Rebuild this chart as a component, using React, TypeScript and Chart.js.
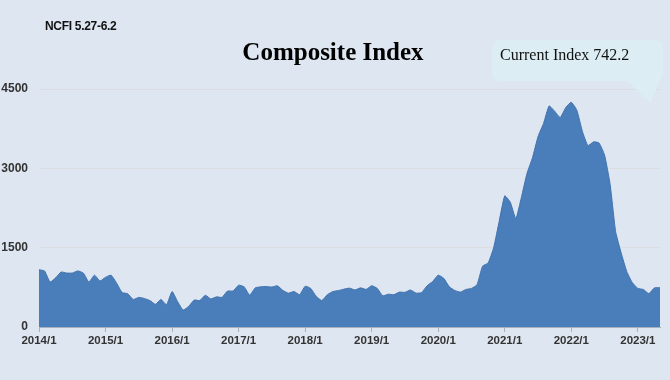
import React, { useEffect, useRef } from "react";
import { Chart, registerables } from "chart.js";

Chart.register(...registerables);

const START_YEAR = 2014;
// Monthly composite index values, 2014/1 .. 2023/5
const values: number[] = [
  1082, 1060, 850, 930, 1040, 1020, 1020, 1060, 1020, 850, 980, 870,
  940, 980, 830, 650, 630, 520, 560, 540, 500, 430, 520, 420,
  670, 480, 320, 390, 510, 500, 600, 530, 570, 560, 680, 680,
  790, 760, 600, 740, 760, 765, 755, 780, 690, 640, 670, 610,
  770, 730, 580, 500, 610, 670, 690, 715, 735, 700, 740, 710,
  780, 730, 590, 620, 610, 660, 655, 700, 640, 650, 780, 860,
  980, 920, 760, 690, 660, 710, 730, 800, 1150, 1210, 1500, 2000,
  2480, 2360, 2050, 2450, 2900, 3200, 3600, 3850, 4180, 4080, 3960, 4150,
  4250, 4100, 3700, 3430, 3500, 3480, 3250, 2700, 1800, 1400, 1050, 840,
  730, 710, 630, 740, 742.2,
];
const months: string[] = values.map(
  (_, i) => `${START_YEAR + Math.floor(i / 12)}/${(i % 12) + 1}`
);
const yTicks: number[] = [0, 1500, 3000, 4500];

const subTitle = "NCFI 5.27-6.2";
const mainTitle = "Composite Index";
const calloutText = "Current Index 742.2";

export default function App() {
  const ref = useRef<HTMLCanvasElement | null>(null);

  useEffect(() => {
    document.body.style.margin = "0";
    const canvas = ref.current;
    if (!canvas) return;
    const chart = new Chart(canvas, {
      type: "line",
      data: {
        labels: months,
        datasets: [
          {
            data: values,
            fill: "origin",
            backgroundColor: "#4a7ebb",
            borderColor: "#4272ad",
            borderWidth: 1,
            pointRadius: 0,
            tension: 0.15,
          },
        ],
      },
      options: {
        animation: false,
        responsive: false,
        maintainAspectRatio: false,
        layout: { padding: { top: 89, right: 10, bottom: 0, left: 0 } },
        plugins: {
          legend: { display: false },
          tooltip: { enabled: false },
          title: { display: false },
        },
        scales: {
          x: {
            type: "category",
            offset: false,
            afterBuildTicks: (scale: any) => {
              scale.ticks = scale.ticks.filter((t: any) => t.value % 12 === 0);
            },
            afterFit: (scale: any) => {
              scale.height = 53;
            },
            ticks: {
              autoSkip: false,
              maxRotation: 0,
              padding: 2,
              color: "#333333",
              font: { family: "'Liberation Sans', Arial, sans-serif", size: 11.5, weight: "bold" },
              callback: (v: any) => months[v as number],
            },
            grid: {
              drawOnChartArea: false,
              drawTicks: true,
              tickLength: 5,
              tickColor: "#a8b2bf",
            },
            border: { display: true, color: "#a8b2bf", width: 1 },
          },
          y: {
            min: 0,
            max: 4500,
            afterBuildTicks: (scale: any) => {
              scale.ticks = yTicks.map((v) => ({ value: v }));
            },
            afterFit: (scale: any) => {
              scale.width = 39;
            },
            ticks: {
              padding: 11,
              color: "#333333",
              font: { family: "'Liberation Sans', Arial, sans-serif", size: 12, weight: "bold" },
              callback: (v: any) => String(v),
            },
            grid: {
              drawTicks: false,
              color: (ctx: any) => (ctx.tick && ctx.tick.value === 0 ? "rgba(0,0,0,0)" : "rgba(215,215,210,0.55)"),
            },
            border: { display: false },
          },
        },
      },
    });
    return () => chart.destroy();
  }, []);

  return (
    <div
      style={{
        position: "relative",
        width: 670,
        height: 380,
        background: "#dee6f1",
        overflow: "hidden",
      }}
    >
      <canvas ref={ref} width={670} height={380} style={{ position: "absolute", left: 0, top: 0 }} />
      <div
        style={{
          position: "absolute",
          left: 45,
          top: 19,
          font: "bold 12px 'Liberation Sans', Arial, sans-serif",
          color: "#111",
          letterSpacing: -0.3,
        }}
      >
        {subTitle}
      </div>
      <div
        style={{
          position: "absolute",
          left: 0,
          width: 666,
          top: 38,
          textAlign: "center",
          font: "bold 25px 'Liberation Serif', 'Times New Roman', serif",
          color: "#000",
        }}
      >
        {mainTitle}
      </div>
      <div
        style={{
          position: "absolute",
          left: 492,
          top: 40,
          width: 171,
          height: 41,
          background: "#dcedf3",
          borderRadius: 8,
        }}
      />
      <div
        style={{
          position: "absolute",
          left: 626,
          top: 80,
          width: 34,
          height: 23,
          background: "#dcedf3",
          clipPath: "polygon(0 0, 100% 0, 72% 100%)",
        }}
      />
      <div
        style={{
          position: "absolute",
          left: 500,
          top: 46,
          font: "16px 'Liberation Serif', 'Times New Roman', serif",
          color: "#111",
          whiteSpace: "nowrap",
        }}
      >
        {calloutText}
      </div>
    </div>
  );
}
